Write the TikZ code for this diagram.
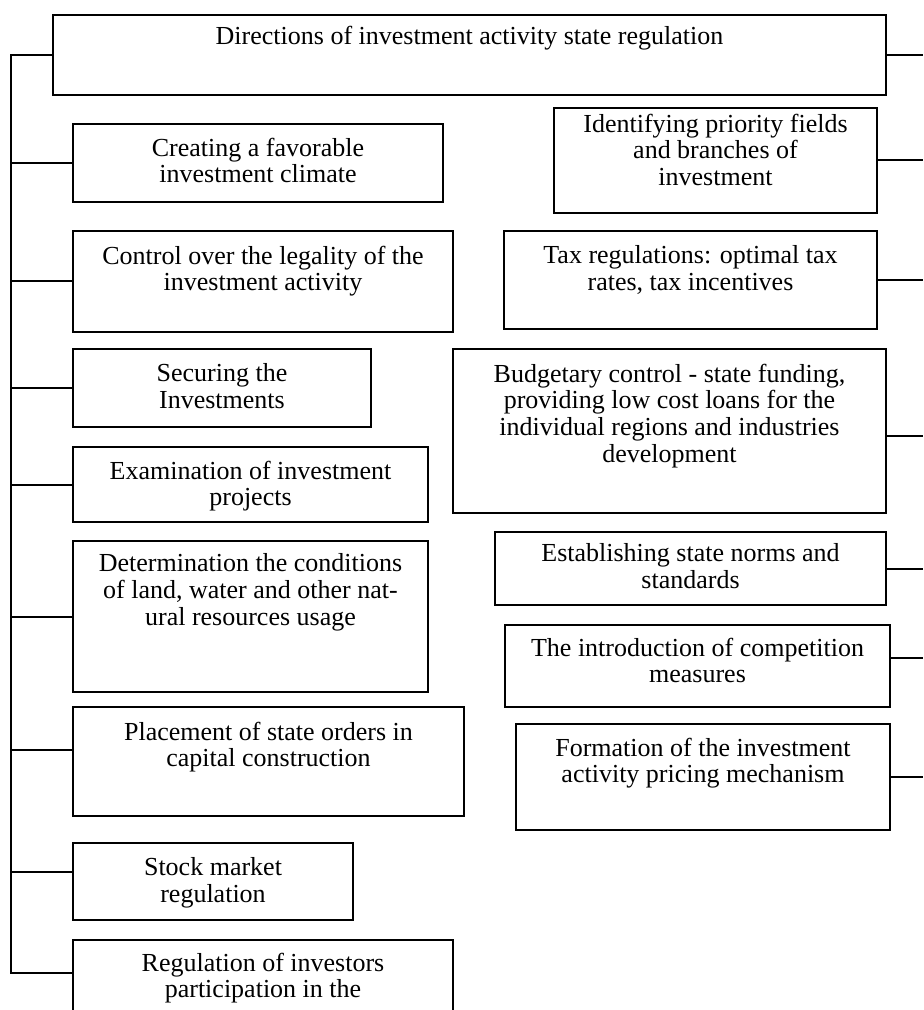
\documentclass[tikz,border=0pt]{standalone}
\usepackage{fontspec}
\setmainfont{Liberation Serif}
\usetikzlibrary{positioning}
\begin{document}
\begin{tikzpicture}[x=0.5pt,y=-0.5pt,line width=1pt,line join=miter,
	box/.style={draw,line width=1pt,inner sep=0pt},
	txt/.style={align=center,inner sep=0pt,font=\fontsize{13}{13.4}\selectfont}]
		\useasboundingbox (0,0) rectangle (923,1010);
		\clip (0,0) rectangle (923,1010);
		% head
		\node[box,minimum width=416.5pt,minimum height=40pt] (head) at (469.5,55) {};
		\node[txt,below=5.4pt of head.north] (head-t) {Directions of investment activity state regulation};
		% left column
		\node[box,minimum width=185pt,minimum height=39pt] (creating) at (258,163) {};
		\node[txt,below=6.9pt of creating.north] (creating-t) {Creating a favorable\\investment climate};
		\node[box,minimum width=190pt,minimum height=50.5pt] (control) at (263,281.5) {};
		\node[txt,below=7.4pt of control.north] (control-t) {Control over the legality of the\\investment activity};
		\node[box,minimum width=149pt,minimum height=39pt] (securing) at (222,388) {};
		\node[txt,below=7.4pt of securing.north] (securing-t) {Securing the\\Investments};
		\node[box,minimum width=177.5pt,minimum height=37.5pt] (exam) at (250.5,484.5) {};
		\node[txt,below=6.9pt of exam.north] (exam-t) {Examination of investment\\projects};
		\node[box,minimum width=177.5pt,minimum height=75.5pt] (determ) at (250.5,616.5) {};
		\node[txt,below=6.4pt of determ.north] (determ-t) {Determination the conditions\\of land, water and other nat-\\ural resources usage};
		\node[box,minimum width=195.5pt,minimum height=54.5pt] (place) at (268.5,761.5) {};
		\node[txt,below=7.4pt of place.north] (place-t) {Placement of state orders in\\capital construction};
		\node[box,minimum width=140pt,minimum height=38.5pt] (stock) at (213,881.5) {};
		\node[txt,below=7.4pt of stock.north] (stock-t) {Stock market\\regulation};
		\node[box,minimum width=190pt,minimum height=65pt] (reg) at (263,1005) {};
		\node[txt,below=6.4pt of reg.north] (reg-t) {Regulation of investors\\participation in the};
		% right column
		\node[box,minimum width=161.5pt,minimum height=52.5pt] (ident) at (715.5,160.5) {};
		\node[txt,below=2.9pt of ident.north] (ident-t) {Identifying priority fields\\and branches of\\investment};
		\node[box,minimum width=186.5pt,minimum height=49pt] (tax) at (690.5,280) {};
		\node[txt,below=7.4pt of tax.north] (tax-t) {Tax regulations: optimal tax\\rates, tax incentives};
		\node[box,minimum width=216.5pt,minimum height=82pt] (budget) at (669.5,431) {};
		\node[txt,below=7.4pt of budget.north] (budget-t) {Budgetary control - state funding,\\providing low cost loans for the\\individual regions and industries\\development};
		\node[box,minimum width=195.5pt,minimum height=36.5pt] (norms) at (690.5,568.5) {};
		\node[txt,below=5.9pt of norms.north] (norms-t) {Establishing state norms and\\standards};
		\node[box,minimum width=192.5pt,minimum height=41pt] (compet) at (697.5,666) {};
		\node[txt,below=6.4pt of compet.north] (compet-t) {The introduction of competition\\measures};
		\node[box,minimum width=187pt,minimum height=53pt] (pricing) at (703,777) {};
		\node[txt,below=6.9pt of pricing.north] (pricing-t) {Formation of the investment\\activity pricing mechanism};
		% connectors
		\coordinate (ltop) at (11,55);
		\coordinate (lbot) at (11,973);
		\coordinate (redge) at (923,55);
		\draw (head.west) -- (ltop) -- (lbot) -- (lbot -| reg.west);
		\draw (head.east) -- (redge);
		\foreach \n in {creating,control,securing,exam,determ}
		\draw (\n.west) -- (\n.west -| ltop);
		\draw ([yshift=6pt]place.west) -- ([yshift=6pt]place.west -| ltop);
		\draw ([yshift=5pt]stock.west) -- ([yshift=5pt]stock.west -| ltop);
		\foreach \n in {ident,tax,norms,pricing}
		\draw (\n.east) -- (\n.east -| redge);
		\draw ([yshift=-2.5pt]budget.east) -- ([yshift=-2.5pt]budget.east -| redge);
		\draw ([yshift=4pt]compet.east) -- ([yshift=4pt]compet.east -| redge);
\end{tikzpicture}
\end{document}
